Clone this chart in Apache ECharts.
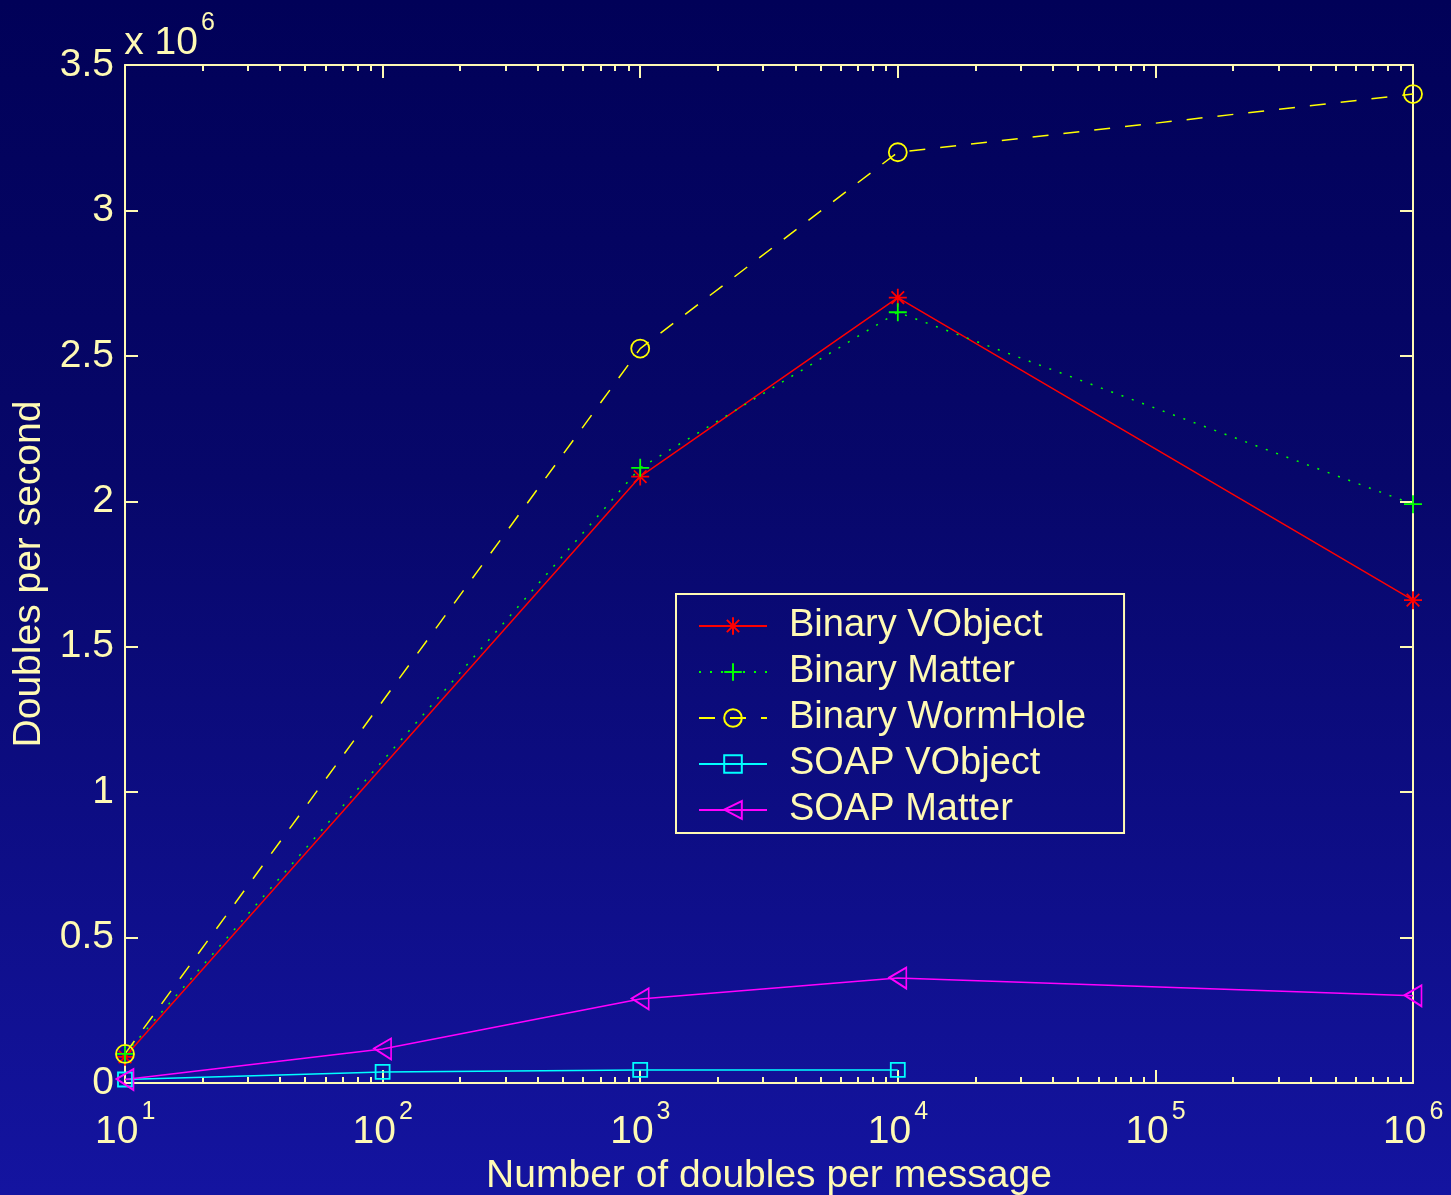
<!DOCTYPE html>
<html><head><meta charset="utf-8">
<script src="https://cdn.jsdelivr.net/npm/echarts@6/dist/echarts.min.js"></script>
<style>
html,body{margin:0;padding:0;}
#c{width:1451px;height:1195px;background:linear-gradient(to bottom,#010158 0%,#07076a 40%,#1414a0 100%);}
</style></head>
<body><div id="c"></div>
<script>
// ---- data ----
var seriesNames = ['Binary VObject','Binary Matter','Binary WormHole','SOAP VObject','SOAP Matter'];
var binaryVObject = [[10,0.09e6],[1000,2.085e6],[10000,2.70e6],[1000000,1.66e6]];
var binaryMatter  = [[10,0.10e6],[1000,2.115e6],[10000,2.65e6],[1000000,1.99e6]];
var binaryWormHole= [[10,0.10e6],[1000,2.525e6],[10000,3.20e6],[1000000,3.40e6]];
var soapVObject   = [[10,0.012e6],[100,0.038e6],[1000,0.045e6],[10000,0.045e6]];
var soapMatter    = [[10,0.012e6],[100,0.117e6],[1000,0.289e6],[10000,0.361e6],[1000000,0.300e6]];
var yTickLabels = ['0','0.5','1','1.5','2','2.5','3','3.5'];
var minorMultipliers = [2,3,4,5,6,7,8,9];

var TXT = '#fffab4';
var FONT = '"Liberation Sans", Arial, sans-serif';
var FS = 39;

// minor tick positions (log10 space) for the decoration axis
var minorTicks = [];
for (var e = 1; e < 6; e++) {
  for (var k = 0; k < minorMultipliers.length; k++) {
    minorTicks.push(e + Math.log10(minorMultipliers[k]));
  }
}

var asterisk = 'path://M10,0L10,20M0,10L20,10M3,3L17,17M17,3L3,17';
var plus = 'path://M10,0L10,20M0,10L20,10';
var triLeft = 'path://M0,10L17,0L17,21Z';

function mkSeries(name, data, color, lineType, symbol, size, hollow) {
  return {
    name: name, type: 'line', data: data,
    xAxisIndex: 0, yAxisIndex: 0,
    symbol: symbol, symbolSize: size, showSymbol: true,
    lineStyle: { color: color, width: 1.5, type: lineType },
    itemStyle: { color: hollow ? 'rgba(0,0,0,0)' : color, borderColor: color, borderWidth: 1.8 },
    emphasis: { disabled: true },
    animation: false, z: 5
  };
}

var supRich = {
  b: { fontSize: FS, color: TXT, fill: TXT, fontFamily: FONT, verticalAlign: 'bottom', lineHeight: 44 },
  s: { fontSize: 25, color: TXT, fill: TXT, fontFamily: FONT, verticalAlign: 'top', padding: [0,0,0,3], lineHeight: 24 },
  sp: { lineHeight: 52, fontSize: 1 }
};

var chart = echarts.init(document.getElementById('c'), null, { renderer: 'canvas' });
chart.setOption({
  backgroundColor: 'transparent',
  animation: false,
  textStyle: { fontFamily: FONT },
  grid: { left: 125, right: 38, top: 65, bottom: 112, containLabel: false, outerBoundsMode: 'none' },
  legend: {
    orient: 'vertical', left: 676, top: 594,
    data: seriesNames,
    itemWidth: 68, itemHeight: 22, itemGap: 6,
    padding: [12, 38, 3, 22],
    backgroundColor: 'rgba(0,0,0,0)',
    borderColor: TXT, borderWidth: 2,
    textStyle: { color: TXT, fontSize: 38, fontFamily: FONT, lineHeight: 40, padding: [0,0,0,17] },
    inactiveColor: TXT
  },
  xAxis: [
    { type: 'log', logBase: 10, min: 10, max: 1000000, position: 'bottom', gridIndex: 0,
      axisLine: { show: true, onZero: false, lineStyle: { color: TXT, width: 2 } },
      axisTick: { show: true, inside: true, length: 13, lineStyle: { color: TXT, width: 2 } },
      minorTick: { show: false },
      splitLine: { show: false },
      axisLabel: { show: true, margin: 17, color: TXT,
        formatter: function (v) { var ex = Math.round(Math.log10(v)); return '{sp| }{b|10}{s|' + ex + '}'; },
        rich: supRich },
      name: 'Number of doubles per message', nameLocation: 'middle', nameGap: 67,
      nameTextStyle: { color: TXT, fontSize: FS, fontFamily: FONT } },
    { type: 'log', logBase: 10, min: 10, max: 1000000, position: 'top', gridIndex: 0,
      axisLine: { show: true, onZero: false, lineStyle: { color: TXT, width: 2 } },
      axisTick: { show: true, inside: true, length: 13, lineStyle: { color: TXT, width: 2 } },
      axisLabel: { show: false }, splitLine: { show: false } },
    { type: 'value', min: 1, max: 6, position: 'bottom', gridIndex: 0,
      axisLine: { show: false, onZero: false },
      axisTick: { show: true, inside: true, length: 6, customValues: minorTicks, lineStyle: { color: TXT, width: 2 } },
      axisLabel: { show: false }, splitLine: { show: false } },
    { type: 'value', min: 1, max: 6, position: 'top', gridIndex: 0,
      axisLine: { show: false, onZero: false },
      axisTick: { show: true, inside: true, length: 6, customValues: minorTicks, lineStyle: { color: TXT, width: 2 } },
      axisLabel: { show: false }, splitLine: { show: false } }
  ],
  yAxis: [
    { type: 'value', min: 0, max: 3500000, interval: 500000, position: 'left', gridIndex: 0,
      axisLine: { show: true, onZero: false, lineStyle: { color: TXT, width: 2 } },
      axisTick: { show: true, inside: true, length: 13, lineStyle: { color: TXT, width: 2 } },
      splitLine: { show: false },
      axisLabel: { show: true, margin: 11, color: TXT, fontSize: FS, fontFamily: FONT,
        formatter: function (v) { return yTickLabels[Math.round(v / 500000)]; } },
      name: 'Doubles per second', nameLocation: 'middle', nameGap: 75, nameRotate: 90,
      nameTextStyle: { color: TXT, fontSize: FS, fontFamily: FONT } },
    { type: 'value', min: 0, max: 3500000, interval: 500000, position: 'right', gridIndex: 0,
      axisLine: { show: true, onZero: false, lineStyle: { color: TXT, width: 2 } },
      axisTick: { show: true, inside: true, length: 13, lineStyle: { color: TXT, width: 2 } },
      splitLine: { show: false }, axisLabel: { show: false } }
  ],
  graphic: [
    { type: 'text', left: 124, top: 11,
      style: { text: '{sp| }{b|x 10}{s|6}', rich: supRich } }
  ],
  series: [
    mkSeries(seriesNames[0], binaryVObject, '#ff0000', 'solid', asterisk, 18, false),
    mkSeries(seriesNames[1], binaryMatter, '#00ff00', [2, 9], plus, 18, false),
    mkSeries(seriesNames[2], binaryWormHole, '#ffff00', [16, 15], 'circle', 18, true),
    mkSeries(seriesNames[3], soapVObject, '#00ffff', 'solid', 'rect', 14, true),
    mkSeries(seriesNames[4], soapMatter, '#ff00ff', 'solid', triLeft, [17, 21], true)
  ]
});
</script></body></html>
